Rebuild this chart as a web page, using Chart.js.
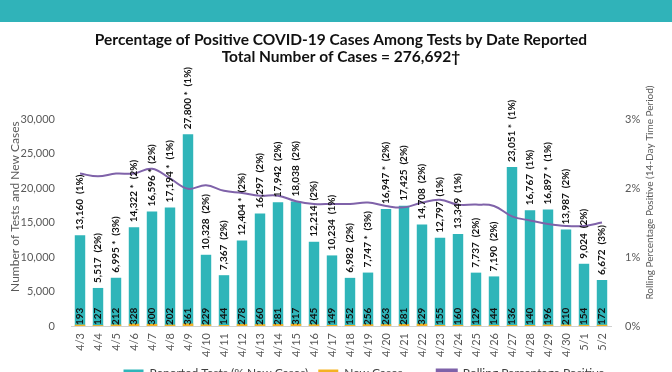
<!DOCTYPE html>
<html>
<head>
<meta charset="utf-8">
<script src="https://cdn.jsdelivr.net/npm/chart.js@4"></script>
<style>
  html, body { margin: 0; padding: 0; background: #fff; overflow: hidden; width: 672px; height: 372px; }
  #band { position: absolute; left: 0; top: 0; width: 672px; height: 22px; background: #30b3b9; }
  #wrap { position: absolute; left: 0; top: 22px; width: 672px; height: 367px; }
</style>
</head>
<body>
<div id="band"></div>
<div id="wrap"><canvas id="positivityChart"></canvas></div>
<script>
const dates = ['4/3','4/4','4/5','4/6','4/7','4/8','4/9','4/10','4/11','4/12','4/13','4/14','4/15','4/16','4/17',
    '4/18','4/19','4/20','4/21','4/22','4/23','4/24','4/25','4/26','4/27','4/28','4/29','4/30','5/1','5/2'];
const reportedTests = [13160, 5517, 6995, 14322, 16596, 17194, 27800, 10328, 7367, 12404, 16297, 17942, 18038, 12214, 10234,
    6982, 7747, 16947, 17425, 14708, 12797, 13349, 7737, 7190, 23051, 16767, 16897, 13987, 9024, 6672];
const testMarks = ['', '', '*', '*', '*', '*', '*', '', '', '*', '', '', '', '', '',
    '', '*', '*', '', '', '', '', '', '', '*', '', '*', '', '', ''];
const dailyPositivePct = [1, 2, 3, 2, 2, 1, 1, 2, 2, 2, 2, 2, 2, 2, 1,
    2, 3, 2, 2, 2, 1, 1, 2, 2, 1, 1, 1, 2, 2, 3];
const newCases = [193, 127, 212, 328, 300, 202, 361, 229, 144, 278, 260, 281, 317, 245, 149,
    152, 256, 263, 281, 329, 155, 160, 129, 144, 136, 140, 196, 210, 154, 172];
const rollingPct = [2.21, 2.17, 2.21, 2.21, 2.28, 2.14, 1.99, 2.04, 1.96, 1.93, 1.89, 1.89, 1.81, 1.77, 1.77,
    1.77, 1.79, 1.74, 1.72, 1.79, 1.83, 1.76, 1.76, 1.74, 1.59, 1.53, 1.48, 1.45, 1.45, 1.50];
const leftTicks = [0, 5000, 10000, 15000, 20000, 25000, 30000];
const rightTicks = [0, 1, 2, 3];

const FONT = 'Lato, "Open Sans", sans-serif';
const LEFT_TITLE = 'Number of Tests and New Cases';
const RIGHT_TITLE = 'Rolling Percentage Positive (14-Day Time Period)';

// Rotated value labels on the bars, plus both axis titles (bottom-to-top)
const barLabels = {
    id: 'barLabels',
    afterLayout(chart) {
        // nudge legend to the right like the original
        chart.legend.left += 40;
        chart.legend.right += 40;
    },
    afterDatasetsDraw(chart) {
        const ctx = chart.ctx;
        const base = chart.scales.y.getPixelForValue(0);
        ctx.save();
        ctx.fillStyle = '#111';
        ctx.font = 'bold 10px ' + FONT;
        ctx.textBaseline = 'middle';
        ctx.textAlign = 'left';
        chart.getDatasetMeta(1).data.forEach((bar, i) => {
            const mark = testMarks[i] ? ' ' + testMarks[i] : '';
            const text = reportedTests[i].toLocaleString('en-US') + mark + '  (' + dailyPositivePct[i] + '%)';
            ctx.save();
            ctx.translate(bar.x, bar.y - 5);
            ctx.rotate(-Math.PI / 2);
            ctx.fillText(text, 0, 0);
            ctx.restore();
        });
        chart.getDatasetMeta(1).data.forEach((bar, i) => {
            ctx.save();
            ctx.translate(bar.x, base - 1);
            ctx.rotate(-Math.PI / 2);
            ctx.fillText(String(newCases[i]), 0, 0);
            ctx.restore();
        });

        const area = chart.chartArea;
        const mid = (area.top + area.bottom) / 2;
        ctx.fillStyle = '#595959';
        ctx.textAlign = 'center';
        ctx.font = '12px ' + FONT;
        ctx.save();
        ctx.translate(chart.scales.y.left + 15, mid - 16);
        ctx.rotate(-Math.PI / 2);
        ctx.fillText(LEFT_TITLE, 0, 0);
        ctx.restore();
        ctx.font = '10px ' + FONT;
        ctx.save();
        ctx.translate(chart.scales.y1.right - 22, mid - 30);
        ctx.rotate(-Math.PI / 2);
        ctx.fillText(RIGHT_TITLE, 0, 0);
        ctx.restore();
        ctx.restore();
    }
};

// wider gaps between legend entries
function legendItems(chart) {
    const items = Chart.defaults.plugins.legend.labels.generateLabels(chart);
    return items.map((item, i) => {
        if (i < items.length - 1) item.text = item.text + '\u2003\u2003\u2002';
        return item;
    });
}

const ctx = document.getElementById('positivityChart').getContext('2d');
const positivityChart = new Chart(ctx, {
    type: 'bar',
    data: {
        labels: dates,
        datasets: [
            {
                type: 'line',
                label: 'Rolling Percentage Positive',
                data: rollingPct,
                yAxisID: 'y1',
                borderColor: '#7f62a9',
                backgroundColor: '#7f62a9',
                borderWidth: 2,
                pointRadius: 0,
                tension: 0.4,
                order: 0
            },
            {
                label: 'Reported Tests (% New Cases)',
                data: reportedTests,
                yAxisID: 'y',
                backgroundColor: '#2fb5b9',
                barPercentage: 0.58,
                categoryPercentage: 1.0,
                grouped: false,
                order: 2
            },
            {
                label: 'New Cases',
                data: newCases,
                yAxisID: 'y',
                backgroundColor: '#f4b223',
                barPercentage: 0.58,
                categoryPercentage: 1.0,
                grouped: false,
                order: 1
            }
        ]
    },
    options: {
        responsive: true,
        maintainAspectRatio: false,
        animation: false,
        layout: { padding: 0 },
        scales: {
            x: {
                afterFit: scale => { scale.height = 31; },
                grid: { display: false, drawTicks: false },
                border: { color: '#d0d0d0', width: 1 },
                ticks: {
                    color: '#595959',
                    font: { family: FONT, size: 11 },
                    minRotation: 90,
                    maxRotation: 90,
                    autoSkip: false,
                    padding: 7
                }
            },
            y: {
                position: 'left',
                min: 0,
                max: 30000,
                afterBuildTicks: scale => { scale.ticks = leftTicks.map(v => ({ value: v })); },
                afterFit: scale => { scale.width = 71; },
                grid: { display: false },
                border: { display: false },
                ticks: {
                    color: '#595959',
                    font: { family: FONT, size: 11 },
                    padding: 8,
                    callback: v => v.toLocaleString('en-US')
                }
            },
            y1: {
                position: 'right',
                min: 0,
                max: 3,
                afterBuildTicks: scale => { scale.ticks = rightTicks.map(v => ({ value: v })); },
                afterFit: scale => { scale.width = 61; },
                grid: { display: false },
                border: { display: false },
                ticks: {
                    color: '#595959',
                    font: { family: FONT, size: 11 },
                    padding: 6,
                    callback: v => v + '%'
                }
            }
        },
        plugins: {
            title: {
                display: true,
                fullSize: false,
                text: ['Percentage of Positive COVID-19 Cases Among Tests by Date Reported',
                       'Total Number of Cases = 276,692\u2020'],
                color: '#111',
                font: { family: FONT, size: 15.5, weight: 'bold', lineHeight: 1.1 },
                padding: { top: 9, bottom: 54 }
            },
            legend: {
                display: true,
                position: 'bottom',
                reverse: true,
                labels: {
                    color: '#404040',
                    font: { family: FONT, size: 12 },
                    boxWidth: 20,
                    boxHeight: 7,
                    padding: 10,
                    generateLabels: legendItems
                }
            },
            tooltip: { enabled: false }
        }
    },
    plugins: [barLabels]
});
</script>
</body>
</html>
